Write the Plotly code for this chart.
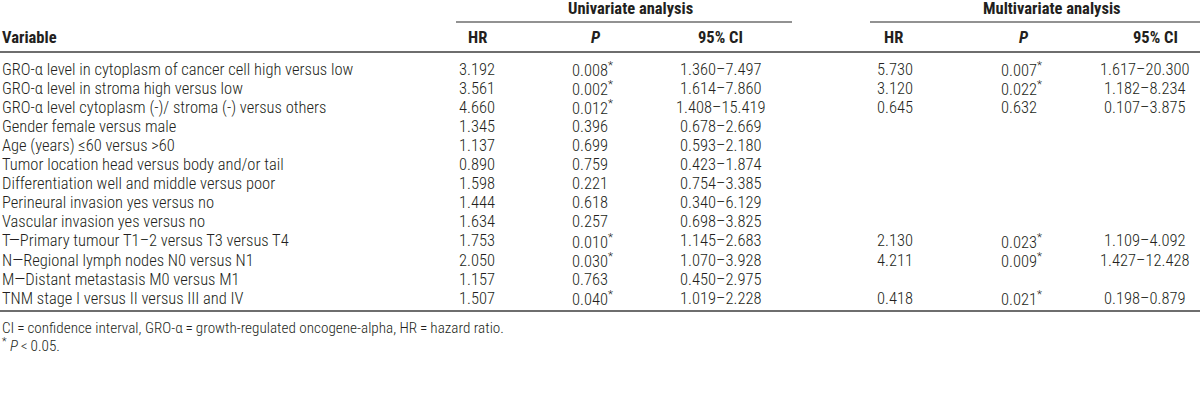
import plotly.graph_objects as go

variables = [
    "GRO-α level in cytoplasm of cancer cell high versus low",
    "GRO-α level in stroma high versus low",
    "GRO-α level cytoplasm (-)/ stroma (-) versus others",
    "Gender female versus male",
    "Age (years) ≤60 versus >60",
    "Tumor location head versus body and/or tail",
    "Differentiation well and middle versus poor",
    "Perineural invasion yes versus no",
    "Vascular invasion yes versus no",
    "T—Primary tumour T1–2 versus T3 versus T4",
    "N—Regional lymph nodes N0 versus N1",
    "M—Distant metastasis M0 versus M1",
    "TNM stage I versus II versus III and IV",
]
uni_hr = ["3.192", "3.561", "4.660", "1.345", "1.137", "0.890", "1.598", "1.444", "1.634", "1.753", "2.050", "1.157", "1.507"]
uni_p = ["0.008", "0.002", "0.012", "0.396", "0.699", "0.759", "0.221", "0.618", "0.257", "0.010", "0.030", "0.763", "0.040"]
uni_sig = [True, True, True, False, False, False, False, False, False, True, True, False, True]
uni_ci = ["1.360–7.497", "1.614–7.860", "1.408–15.419", "0.678–2.669", "0.593–2.180", "0.423–1.874",
          "0.754–3.385", "0.340–6.129", "0.698–3.825", "1.145–2.683", "1.070–3.928", "0.450–2.975", "1.019–2.228"]
multi_hr = ["5.730", "3.120", "0.645", "", "", "", "", "", "", "2.130", "4.211", "", "0.418"]
multi_p = ["0.007", "0.022", "0.632", "", "", "", "", "", "", "0.023", "0.009", "", "0.021"]
multi_sig = [True, True, False, False, False, False, False, False, False, True, True, False, True]
multi_ci = ["1.617–20.300", "1.182–8.234", "0.107–3.875", "", "", "", "", "", "", "1.109–4.092", "1.427–12.428", "", "0.198–0.879"]

footnotes = [
    "CI\u2009=\u2009confidence interval, GRO-α\u2009=\u2009growth-regulated oncogene-alpha, HR\u2009=\u2009hazard ratio.",
    "<sup>*</sup> <i>P</i>\u2009<\u20090.05.",
]

FONT = "Roboto Condensed, Liberation Sans Narrow, sans-serif"
TXT = "#231f20"
LINE = "#6e6e6e"
FS = 16.5

fig = go.Figure()
ann = []


def add(x, y, text, anchor="left", bold=False, size=FS):
    ann.append(dict(x=x, y=y, xref="x", yref="y", text=text, showarrow=False,
                    xanchor=anchor, yanchor="middle",
                    font=dict(family=FONT, size=size, color=TXT,
                              weight=700 if bold else 300)))


# group headers
add(630, 8, "Univariate analysis", "center", True)
add(1052, 8, "Multivariate analysis", "center", True)
# column headers
add(0, 37, "Variable", "left", True)
add(477, 37, "HR", "center", True)
add(596, 37, "<i>P</i>", "center", True)
add(720, 37, "95% CI", "center", True)
add(893, 37, "HR", "center", True)
add(1024, 37, "<i>P</i>", "center", True)
add(1155, 37, "95% CI", "center", True)

y0, dy = 69, 19.1
for i, v in enumerate(variables):
    y = y0 + i * dy
    add(0, y, v)
    add(457, y, uni_hr[i])
    add(570, y, uni_p[i] + ("<sup>*</sup>" if uni_sig[i] else ""))
    add(720, y, uni_ci[i], "center")
    if multi_hr[i]:
        add(875, y, multi_hr[i])
        add(999, y, multi_p[i] + ("<sup>*</sup>" if multi_sig[i] else ""))
        add(1144, y, multi_ci[i], "center")

add(0, 328, footnotes[0], "left", size=15.2)
add(0, 345, footnotes[1], "left", size=15.2)

shapes = [
    dict(type="line", x0=456, x1=792, y0=22, y1=22, line=dict(color=LINE, width=1.5)),
    dict(type="line", x0=870, x1=1200, y0=22, y1=22, line=dict(color=LINE, width=1.5)),
    dict(type="line", x0=0, x1=1200, y0=52, y1=52, line=dict(color=LINE, width=2)),
    dict(type="line", x0=0, x1=1200, y0=311, y1=311, line=dict(color=LINE, width=2)),
]
for s in shapes:
    s.update(xref="x", yref="y")

fig.update_layout(
    width=1200, height=420,
    margin=dict(l=0, r=0, t=0, b=0),
    paper_bgcolor="white", plot_bgcolor="white",
    xaxis=dict(range=[0, 1200], visible=False, fixedrange=True),
    yaxis=dict(range=[420, 0], visible=False, fixedrange=True),
    annotations=ann, shapes=shapes, showlegend=False,
)

fig.write_html("out.html", config={"displayModeBar": False},
               post_script="document.body.style.margin='0';document.body.style.overflow='hidden';")
